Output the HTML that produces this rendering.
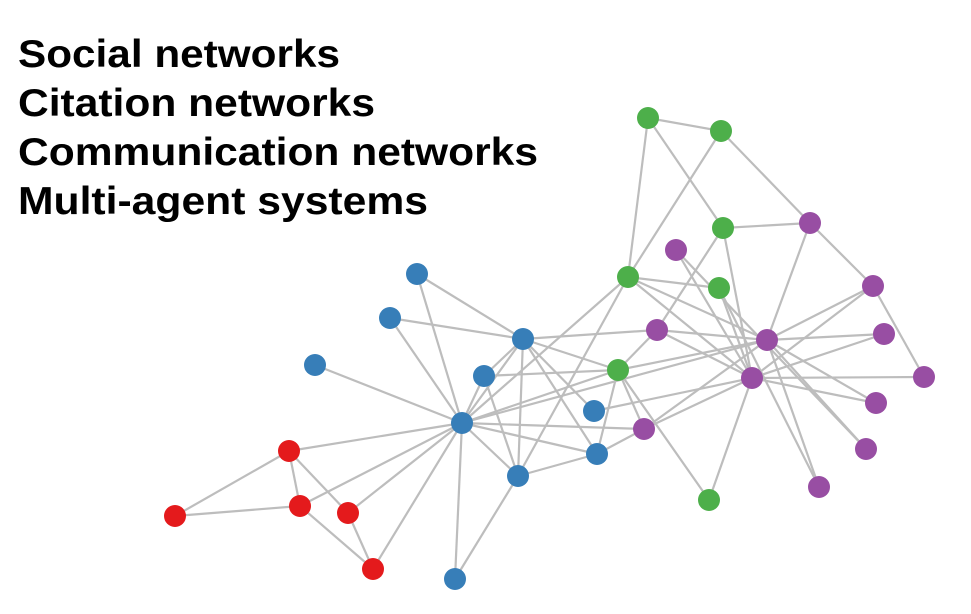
<!DOCTYPE html>
<html><head><meta charset="utf-8"><style>html,body{margin:0;padding:0;background:#fff;}svg{display:block}</style></head>
<body>
<svg width="971" height="614" viewBox="0 0 971 614" xmlns="http://www.w3.org/2000/svg">
<g font-family="Liberation Sans, sans-serif" font-weight="bold" font-size="39" fill="#000">
<text x="18" y="67" textLength="322" lengthAdjust="spacingAndGlyphs">Social networks</text>
<text x="18" y="116" textLength="357" lengthAdjust="spacingAndGlyphs">Citation networks</text>
<text x="18" y="165" textLength="520" lengthAdjust="spacingAndGlyphs">Communication networks</text>
<text x="18" y="214" textLength="410" lengthAdjust="spacingAndGlyphs">Multi-agent systems</text>
</g>
<g stroke="#bdbdbd" stroke-width="2.2" fill="none" id="e"></g>
<g id="n"></g>
<script>
var N={G1:[648,118],G2:[721,131],G3:[723,228],G4:[628,277],G5:[719,288],G6:[618,370],G7:[709,500],
P1:[810,223],P2:[676,250],P3:[873,286],P4:[657,330],P5:[767,340],P6:[884,334],P7:[752,378],P8:[924,377],P9:[876,403],P10:[644,429],P11:[866,449],P12:[819,487],
B1:[417,274],B2:[390,318],B3:[315,365],B4:[523,339],B5:[484,376],B6:[462,423],B7:[594,411],B8:[597,454],B9:[518,476],B10:[455,579],
R1:[289,451],R2:[175,516],R3:[300,506],R4:[348,513],R5:[373,569]};
var E="G1-G2 G1-G4 G1-G3 G2-G4 G2-P1 G3-P1 G3-P7 G3-P4 P4-G6 P1-P5 P1-P3 P3-P8 G4-G5 G4-P7 G4-P5 G4-B6 P2-P7 P2-P11 G5-P7 G5-P12 P4-P5 P4-P7 P4-B4 P5-P6 P5-P3 P5-P9 P5-P11 P5-P12 P5-G6 P5-P10 P7-P8 P7-P6 P7-P3 P7-P9 P7-P10 P7-B7 P7-G7 G6-B4 G6-B5 G6-B6 G6-B8 G6-P10 G6-G7 B1-B4 B1-B6 B2-B4 B2-B6 B3-B6 B4-B5 B4-B9 B4-B8 B4-B6 B4-B7 B5-B6 B5-B9 B6-P10 B6-B8 B6-B9 B6-B10 B6-R1 B6-R3 B6-R4 B6-R5 B6-P5 B9-B8 B9-B10 B9-G4 B8-P10 R1-R2 R1-R3 R1-R4 R2-R3 R3-R5 R4-R5".split(" ");
var ns="http://www.w3.org/2000/svg",eg=document.getElementById("e"),ng=document.getElementById("n");
E.forEach(function(s){var p=s.split("-"),a=N[p[0]],b=N[p[1]],l=document.createElementNS(ns,"line");
l.setAttribute("x1",a[0]);l.setAttribute("y1",a[1]);l.setAttribute("x2",b[0]);l.setAttribute("y2",b[1]);eg.appendChild(l);});
var C={G:"#4daf4a",P:"#984ea3",B:"#377eb8",R:"#e41a1c"};
for(var k in N){var c=document.createElementNS(ns,"circle");c.setAttribute("cx",N[k][0]);c.setAttribute("cy",N[k][1]);c.setAttribute("r",11);c.setAttribute("fill",C[k[0]]);ng.appendChild(c);}
</script>
</svg>
</body></html>
